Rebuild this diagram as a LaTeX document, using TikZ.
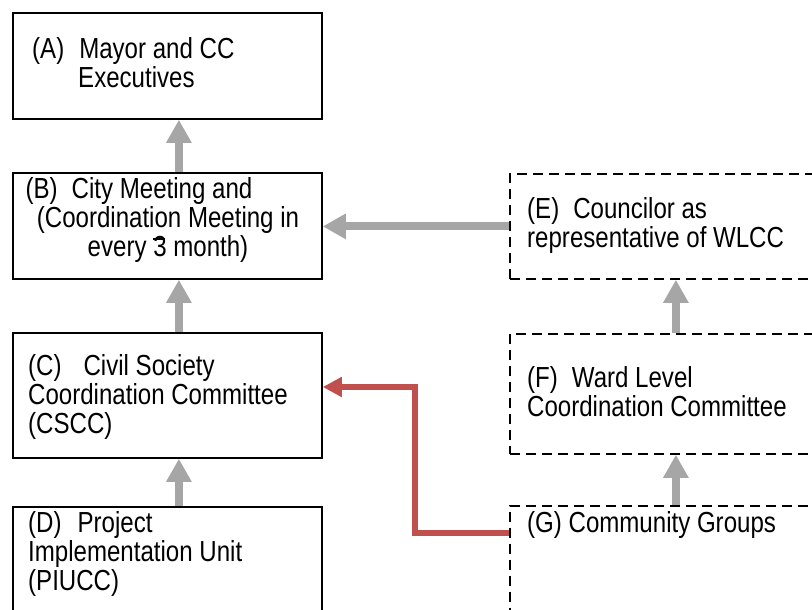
\documentclass[tikz,border=0pt]{standalone}
\usepackage{fontspec}
\setmainfont{Liberation Sans}[FakeStretch=0.83]
\usetikzlibrary{arrows.meta}
\definecolor{linkgray}{HTML}{A6A6A6}
\definecolor{linkred}{HTML}{C0504D}
% digit three with a short bar through its top
\newcommand\barthree{\makebox[0pt][l]{\rule[0.57em]{0.4em}{0.07em}}3}

\begin{document}
\begin{tikzpicture}[x=1pt,y=-1pt,
  every node/.style={font=\fontsize{29pt}{29pt}\selectfont, inner sep=0pt},
  solidbox/.style={draw=black, line width=1.8pt, anchor=north west, minimum width=309pt},
  dashbox/.style={draw=black, line width=1.8pt, dash pattern=on 10pt off 6pt,
                  anchor=north west, minimum width=332pt},
  boxtext/.style={anchor=base west, align=left},
  grayflow/.style={draw=linkgray, line width=8pt, -{Triangle[length=23pt,width=24pt]}},
  redflow/.style={draw=linkred, line width=6.5pt, -{Triangle[length=19pt,width=19pt]}}
]
\useasboundingbox (0,0) rectangle (812,610);
\clip (0,0) rectangle (812,610);

% left column
\node[solidbox, minimum height=106pt] (A) at (12,12) {};
\node[solidbox, minimum height=106pt] (B) at (12,172) {};
\node[solidbox, minimum height=125pt] (C) at (12,332) {};
\node[solidbox, minimum height=130pt] (D) at (12,506) {};

% right column
\node[dashbox, minimum height=105pt] (E) at (509,173) {};
\node[dashbox, minimum height=120pt] (F) at (509,333) {};
\node[dashbox, minimum height=130pt] (G) at (509,505) {};

% box texts (anchored on the baseline of their last line)
\node[boxtext] (tA) at (32,87.5) {(A)\hspace{15pt}Mayor and CC\\\hspace*{46pt}Executives};
\node[anchor=base, align=center] (tB) at (168,256.5)
  {(B)\hspace{14pt}City Meeting and\hspace*{58pt}\\(Coordination Meeting in\\every \barthree\ month)};
\node[boxtext] (tC) at (28,433) {(C)\hspace{22pt}Civil Society\\Coordination Committee\\(CSCC)};
\node[boxtext] (tD) at (28,590) {(D)\hspace{16pt}Project\\Implementation Unit\\(PIUCC)};
\node[boxtext] (tE) at (527,247.5) {(E)\hspace{14pt}Councilor as\\representative of WLCC};
\node[boxtext] (tF) at (527,416.5) {(F)\hspace{14pt}Ward Level\\Coordination Committee};
\node[boxtext] (tG) at (527,532.5) {(G) Community Groups};

% reporting links
\draw[grayflow] ([xshift=11.5pt]B.north) -- ([xshift=11.5pt]A.south);
\draw[grayflow] ([xshift=11.5pt]C.north) -- ([xshift=11.5pt]B.south);
\draw[grayflow] ([xshift=11.5pt]D.north) -- ([xshift=11.5pt]C.south);
\draw[grayflow] (E.west) -- (E.west -| B.east);
\draw[grayflow] (F.north) -- (E.south);
\draw[grayflow] (G.north) -- (F.south);

% community groups feeding the civil society committee
\coordinate (bend) at (415,387);
\draw[redflow] ([yshift=-28pt]G.north west) -| (bend) -- (bend -| C.east);
\end{tikzpicture}
\end{document}
